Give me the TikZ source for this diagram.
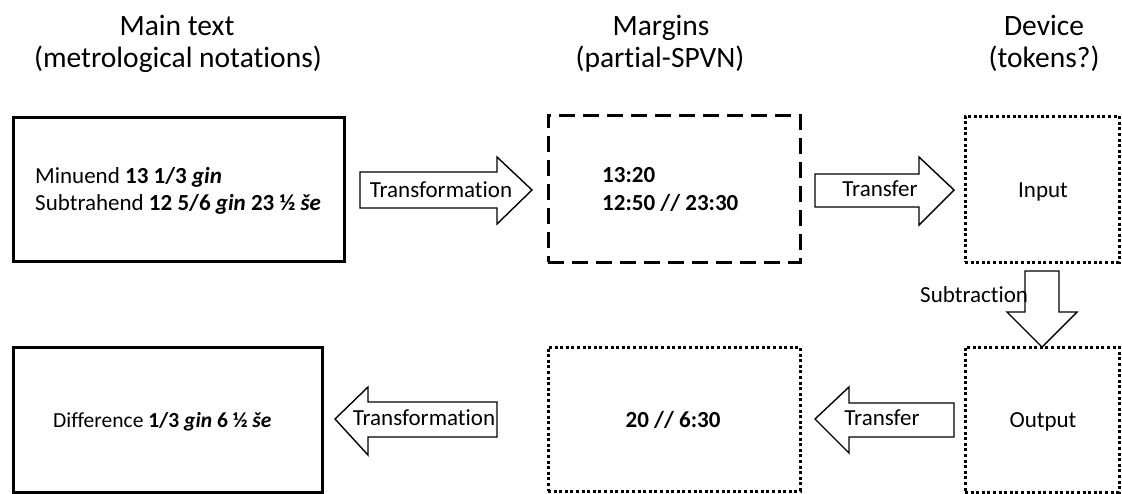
\documentclass[tikz,border=0pt]{standalone}
\usepackage{fontspec}
\setmainfont{Carlito}[Ligatures=NoCommon]
\begin{document}
\begin{tikzpicture}[x=1pt,y=-1pt,
  title/.style={font=\fontsize{29.5}{33}\selectfont, anchor=base, inner sep=0pt},
  txt/.style={font=\fontsize{23}{27}\selectfont, inner sep=0pt},
  smalltxt/.style={font=\fontsize{21.5}{26}\selectfont, inner sep=0pt},
  solidbox/.style={draw, line width=3pt, inner sep=0pt},
  dashbox/.style={draw, line width=3pt, dash pattern=on 16pt off 8pt, inner sep=0pt},
  dotbox/.style={draw, line width=3pt, dash pattern=on 3pt off 2.6pt, inner sep=0pt},
  blockarrow/.style={draw, line width=1.4pt, fill=white, line join=miter}
]
\useasboundingbox (0,0) rectangle (1122,493);

% column titles
\node[title] (t1a) at (177,35) {Main text};
\node[title] (t1b) at (178,67) {(metrological notations)};
\node[title] (t2a) at (661,35) {Margins};
\node[title] (t2b) at (660,67) {(partial-SPVN)};
\node[title] (t3a) at (1044,35) {Device};
\node[title] (t3b) at (1044,67) {(tokens?)};

% boxes
\node[solidbox, minimum width=331pt, minimum height=144pt] (main1) at (178.5,189) {};
\node[dashbox, minimum width=252pt, minimum height=147pt] (marg1) at (674,188.5) {};
\node[dotbox, minimum width=154pt, minimum height=146pt] (input) at (1042,189) {};
\node[dotbox, minimum width=154pt, minimum height=145pt] (output) at (1042,419.5) {};
\node[dotbox, minimum width=252pt, minimum height=144pt] (marg2) at (674,419) {};
\node[solidbox, minimum width=309pt, minimum height=145pt] (main2) at (167.5,419.5) {};

% box texts
\node[txt, anchor=base west] (minuend) at (35,183) {Minuend \textbf{13 1/3 \textit{gin}}};
\node[txt, anchor=base west] (subtrahend) at (35,210) {Subtrahend \textbf{12 5/6 \textit{gin} 23 ½ \textit{še}}};
\node[txt, anchor=base west] (m1a) at (602,182) {\textbf{13:20}};
\node[txt, anchor=base west] (m1b) at (602,210) {\textbf{12:50 // 23:30}};
\node[txt, anchor=base] (inlab) at (1043,197) {Input};
\node[txt, anchor=base] (outlab) at (1043,427) {Output};
\node[txt, anchor=base] (m2) at (673,427) {\textbf{20 // 6:30}};
\node[smalltxt, anchor=base west] (diff) at (53,427) {Difference \textbf{1/3 \textit{gin} 6 ½ \textit{še}}};

% block arrows
\draw[blockarrow] (360,172) -- (497,172) -- (497,157) -- (532,190) -- (497,224) -- (497,208) -- (360,208) -- cycle;
\node[txt, anchor=base] (a1) at (441,197) {Transformation};

\draw[blockarrow] (815,174) -- (919,174) -- (919,157) -- (954,190) -- (919,225) -- (919,207) -- (815,207) -- cycle;
\node[txt, anchor=base] (a2) at (880,196) {Transfer};

\draw[blockarrow] (1025,271) -- (1059,271) -- (1059,312) -- (1077,312) -- (1042,347) -- (1007,312) -- (1025,312) -- cycle;
\node[txt, anchor=base west] (a3) at (920,302) {Subtraction};

\draw[blockarrow] (954,403) -- (849,403) -- (849,387) -- (815,419) -- (849,453) -- (849,437) -- (954,437) -- cycle;
\node[txt, anchor=base] (a4) at (882,425) {Transfer};

\draw[blockarrow] (497,402) -- (368,402) -- (368,387) -- (335,419) -- (368,455) -- (368,437) -- (497,437) -- cycle;
\node[txt, anchor=base] (a5) at (424,425) {Transformation};
\end{tikzpicture}
\end{document}
